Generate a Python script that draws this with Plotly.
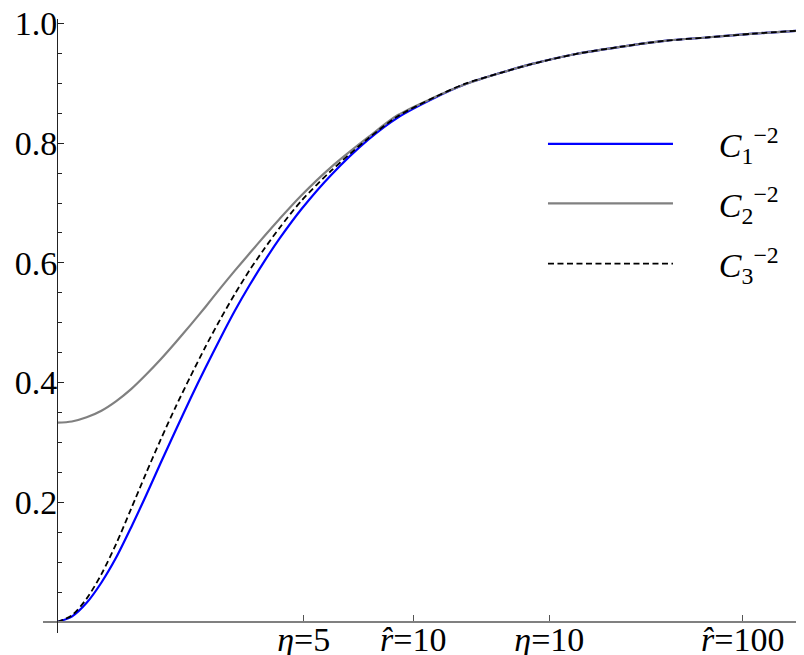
import plotly.graph_objects as go

# compactified radial coordinate (0 = origin, 1 = right end of plot)
s = [0.0, 0.02, 0.04, 0.06, 0.08, 0.10, 0.12, 0.14, 0.16, 0.18, 0.20, 0.22,
     0.24, 0.26, 0.28, 0.30, 0.33, 0.37, 0.42, 0.46, 0.51, 0.55, 0.60, 0.64,
     0.70, 0.76, 0.82, 0.88, 0.94, 1.0]

c1 = [0.0, 0.009, 0.032, 0.066, 0.108, 0.158, 0.211, 0.266, 0.320, 0.373,
      0.424, 0.473, 0.520, 0.563, 0.603, 0.640, 0.690, 0.747, 0.806, 0.843,
      0.876, 0.898, 0.918, 0.932, 0.949, 0.961, 0.971, 0.977, 0.983, 0.988]

c2 = [0.333, 0.335, 0.342, 0.353, 0.369, 0.389, 0.413, 0.439, 0.467, 0.496,
      0.526, 0.557, 0.587, 0.616, 0.645, 0.673, 0.713, 0.760, 0.810, 0.847,
      0.877, 0.898, 0.918, 0.932, 0.949, 0.961, 0.971, 0.977, 0.983, 0.988]

c3 = [0.0, 0.011, 0.039, 0.080, 0.131, 0.189, 0.248, 0.305, 0.359, 0.410,
      0.459, 0.505, 0.548, 0.588, 0.624, 0.658, 0.704, 0.754, 0.808, 0.845,
      0.877, 0.899, 0.918, 0.932, 0.949, 0.961, 0.971, 0.977, 0.983, 0.988]

x_tickvals = [0.3329, 0.4808, 0.6644, 0.9254]
x_ticktext = ["<i>η</i>=5", "<i>r̂</i>=10", "<i>η</i>=10", "<i>r̂</i>=100"]
y_tickvals = [0.2, 0.4, 0.6, 0.8, 1.0]
y_ticktext = ["0.2", "0.4", "0.6", "0.8", "1.0"]
y_minor = [0.05, 0.10, 0.15, 0.25, 0.30, 0.35, 0.45, 0.50, 0.55,
           0.65, 0.70, 0.75, 0.85, 0.90, 0.95]

GAP = "\u2003\u2009"
names = [GAP + "<i>C</i><sub>1</sub><sup>−2</sup>",
         GAP + "<i>C</i><sub>2</sub><sup>−2</sup>",
         GAP + "<i>C</i><sub>3</sub><sup>−2</sup>"]

FONT = "Liberation Serif"
FS = 34

fig = go.Figure()
fig.add_trace(go.Scatter(x=s, y=c1, mode="lines", name=names[0],
                         line=dict(color="#0000ff", width=2.2, shape="spline",
                                   smoothing=0.8), legend="legend"))
fig.add_trace(go.Scatter(x=s, y=c2, mode="lines", name=names[1],
                         line=dict(color="#808080", width=2.2, shape="spline",
                                   smoothing=0.8), legend="legend2"))
fig.add_trace(go.Scatter(x=s, y=c3, mode="lines", name=names[2],
                         line=dict(color="#000000", width=1.8, dash="6px,3.5px",
                                   shape="spline", smoothing=0.8),
                         legend="legend3"))

xmin, xmax = -0.0189, 1.0081
ymin, ymax = -0.0184, 1.0075

leg_common = dict(font=dict(family=FONT, size=FS, color="black"),
                  bgcolor="rgba(0,0,0,0)", itemwidth=125,
                  xanchor="left", yanchor="middle", x=0.657)

fig.update_layout(
    width=796, height=647,
    margin=dict(l=35, r=0, t=11, b=22, autoexpand=False),
    paper_bgcolor="white", plot_bgcolor="white",
    font=dict(family=FONT, size=FS, color="black"),
    showlegend=True,
    legend=dict(**leg_common, y=0.796),
    legend2=dict(**leg_common, y=0.699),
    legend3=dict(**leg_common, y=0.601),
    xaxis=dict(range=[xmin, xmax], showgrid=False, zeroline=False,
               automargin=False, ticklabeloverflow="allow",
               showline=True, linecolor="#808080", linewidth=1.6,
               anchor="free", position=(0 - ymin) / (ymax - ymin),
               tickmode="array", tickvals=x_tickvals, ticktext=x_ticktext,
               ticks="inside", ticklen=6, tickcolor="#555555", tickwidth=1,
               ticklabelstandoff=-13,
               tickfont=dict(family=FONT, size=FS, color="black")),
    yaxis=dict(range=[ymin, ymax], showgrid=False, zeroline=False,
               automargin=False, ticklabeloverflow="allow",
               showline=True, linecolor="#222222", linewidth=1,
               anchor="free", position=(0 - xmin) / (xmax - xmin),
               tickmode="array", tickvals=y_tickvals, ticktext=y_ticktext,
               ticks="inside", ticklen=6, tickcolor="#222222", tickwidth=1,
               ticklabelstandoff=-7,
               minor=dict(tickmode="array", tickvals=y_minor, ticks="inside",
                          ticklen=4, tickcolor="#222222", tickwidth=1,
                          showgrid=False),
               tickfont=dict(family=FONT, size=FS, color="black")),
)

fig.write_html("out.html")
